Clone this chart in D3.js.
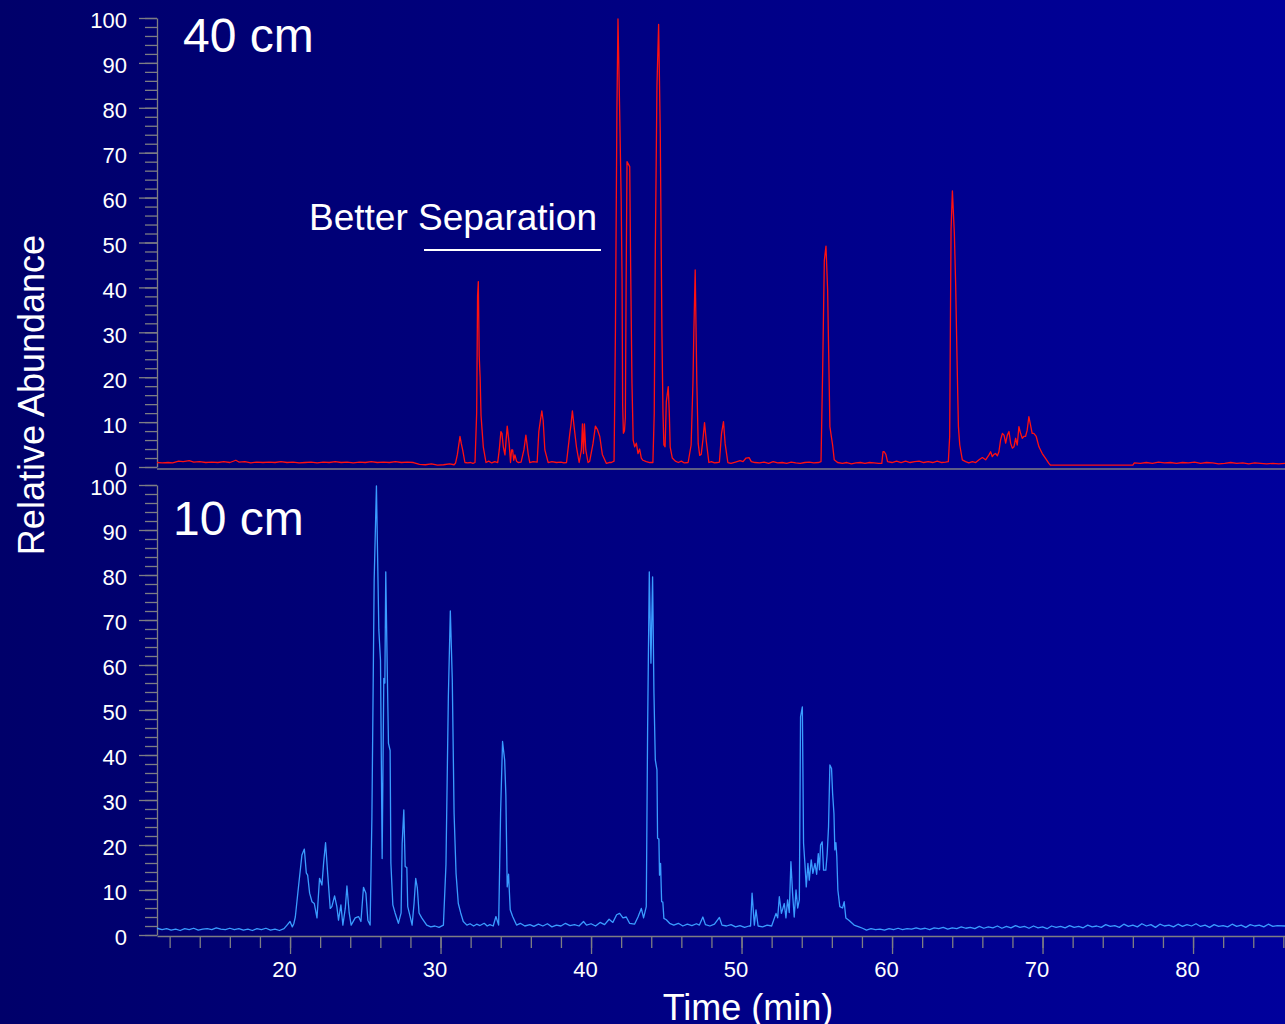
<!DOCTYPE html>
<html>
<head>
<meta charset="utf-8">
<script src="https://cdn.jsdelivr.net/npm/d3@7"></script>
<style>
  html, body { margin: 0; padding: 0; background: #000080; overflow: hidden; }
  svg { display: block; }
</style>
</head>
<body>
<svg id="chart" width="1285" height="1024"></svg>
<script>
// Chromatogram traces: [retention time (min), relative abundance (%)]
const trace40cm = [
  [11.16,1.0],[11.5,0.9],[11.9,1.0],[12.2,0.9],[12.6,1.3],[12.9,1.2],[13.3,1.4],[13.6,1.1],[14.0,1.2],[14.4,1.0],
  [14.8,1.1],[15.2,1.0],[15.6,1.2],[16.0,1.0],[16.4,1.5],[16.6,1.1],[17.0,1.2],[17.4,0.9],[17.8,1.1],[18.2,1.0],
  [18.6,1.1],[19.0,1.0],[19.4,1.2],[19.8,1.0],[20.2,1.1],[20.6,0.9],[21.0,1.0],[21.4,1.1],[21.8,0.9],[22.2,1.1],
  [22.6,1.0],[23.0,1.2],[23.4,1.0],[23.8,1.1],[24.2,0.9],[24.6,1.1],[25.0,1.0],[25.4,1.2],[25.8,1.0],[26.2,1.1],
  [26.6,1.0],[27.0,1.2],[27.4,1.0],[27.8,1.1],[28.2,1.0],[28.6,0.6],[29.0,0.5],[29.4,0.7],[29.8,0.4],[30.2,0.5],
  [30.6,0.7],[30.9,0.5],[31.0,0.9],[31.12,2.8],[31.29,6.8],[31.38,5.2],[31.47,3.8],[31.62,1.0],[31.8,0.9],[32.0,1.0],
  [32.15,0.8],[32.29,1.0],[32.40,12.0],[32.46,38.0],[32.51,41.3],[32.57,24.7],[32.63,20.0],[32.69,11.5],[32.84,4.5],[33.02,1.0],
  [33.2,1.3],[33.4,0.9],[33.6,1.2],[33.8,1.0],[33.90,3.8],[34.01,7.9],[34.08,7.5],[34.17,4.5],[34.28,2.7],[34.43,9.1],
  [34.56,5.2],[34.65,1.0],[34.72,3.8],[34.79,3.8],[34.86,1.5],[34.94,2.7],[35.05,1.3],[35.16,1.0],[35.35,1.1],[35.54,3.8],
  [35.67,7.1],[35.75,5.0],[35.82,3.0],[35.93,1.0],[36.15,1.2],[36.42,1.1],[36.53,7.9],[36.64,10.5],[36.73,12.5],[36.82,10.3],
  [36.93,3.8],[37.15,1.0],[37.4,1.2],[37.7,1.0],[38.0,1.1],[38.2,0.9],[38.37,1.0],[38.59,7.5],[38.67,9.5],[38.76,12.5],
  [38.87,9.1],[39.03,4.5],[39.21,1.0],[39.36,3.8],[39.43,9.6],[39.50,3.0],[39.56,9.6],[39.65,3.8],[39.80,1.0],[39.91,1.3],
  [40.13,5.2],[40.29,9.1],[40.42,8.4],[40.58,6.8],[40.75,2.8],[41.02,0.8],[41.2,1.0],[41.35,1.0],[41.53,1.3],[41.62,30.0],
  [41.72,80.0],[41.79,99.8],[41.90,79.5],[42.0,60.0],[42.06,42.0],[42.10,13.8],[42.15,7.5],[42.22,8.0],[42.28,11.0],[42.33,40.0],
  [42.39,68.0],[42.57,66.9],[42.63,45.0],[42.72,18.6],[42.80,6.0],[42.90,4.5],[43.01,5.3],[43.12,3.0],[43.23,4.0],[43.34,2.0],
  [43.45,1.5],[43.67,1.2],[43.9,1.0],[44.11,1.0],[44.20,12.0],[44.27,48.0],[44.38,85.0],[44.49,98.6],[44.60,74.0],[44.71,29.8],
  [44.78,12.0],[44.84,4.9],[44.92,4.5],[45.00,14.5],[45.13,17.9],[45.20,12.0],[45.26,4.4],[45.4,2.0],[45.6,1.3],[45.8,1.0],
  [46.0,1.3],[46.2,0.9],[46.45,1.0],[46.65,4.9],[46.77,18.6],[46.83,29.9],[46.92,43.9],[47.03,18.6],[47.12,5.2],[47.22,2.6],
  [47.32,2.8],[47.43,6.0],[47.54,9.9],[47.65,6.0],[47.83,1.0],[48.0,1.2],[48.2,0.9],[48.4,1.0],[48.53,1.1],[48.67,7.5],
  [48.80,10.1],[48.91,5.2],[49.09,1.0],[49.3,0.8],[49.6,1.1],[49.9,1.4],[50.1,1.2],[50.3,2.0],[50.5,2.1],[50.65,1.2],
  [50.9,1.0],[51.2,0.9],[51.5,1.1],[51.8,0.8],[52.1,1.2],[52.4,0.9],[52.7,1.0],[53.0,0.8],[53.3,1.1],[53.6,0.9],
  [53.9,0.8],[54.2,1.0],[54.5,1.1],[54.8,0.9],[55.1,1.0],[55.28,1.2],[55.39,21.6],[55.50,46.0],[55.61,49.2],[55.72,39.4],
  [55.79,25.4],[55.87,9.0],[56.05,4.9],[56.16,1.6],[56.38,1.0],[56.7,0.8],[57.0,1.0],[57.3,0.7],[57.6,0.9],[57.9,1.0],
  [58.2,0.8],[58.5,1.0],[58.8,0.9],[59.1,0.8],[59.32,0.8],[59.40,3.4],[59.48,3.4],[59.59,2.8],[59.70,1.2],[60.0,1.0],
  [60.3,1.3],[60.6,1.0],[60.9,1.3],[61.2,1.0],[61.5,1.2],[61.8,1.3],[62.1,1.0],[62.4,1.2],[62.7,1.0],[63.0,1.3],
  [63.3,1.0],[63.55,1.1],[63.74,1.2],[63.83,6.8],[63.92,52.8],[64.01,61.5],[64.14,52.0],[64.23,40.2],[64.32,23.8],[64.41,9.0],
  [64.50,4.9],[64.67,1.6],[64.89,1.2],[65.1,0.9],[65.34,1.2],[65.56,1.0],[65.78,1.6],[66.0,2.1],[66.22,1.6],[66.44,2.7],
  [66.55,3.4],[66.66,2.3],[66.77,2.8],[66.88,3.0],[67.0,2.5],[67.10,3.4],[67.21,6.0],[67.33,7.5],[67.44,7.1],[67.55,5.3],
  [67.66,7.1],[67.77,7.9],[67.88,5.3],[67.99,4.2],[68.10,4.5],[68.21,6.4],[68.32,4.9],[68.43,9.0],[68.54,7.5],[68.65,6.4],
  [68.76,6.8],[68.87,6.8],[68.98,8.2],[69.09,11.2],[69.20,9.4],[69.31,7.5],[69.42,7.5],[69.58,6.8],[69.76,4.5],[69.98,3.0],
  [70.20,1.9],[70.42,0.8],[70.53,0.4],[72.0,0.4],[74.0,0.4],[76.0,0.4],[76.1,0.9],[76.5,0.8],[76.9,1.0],[77.3,0.8],
  [77.7,1.1],[78.1,0.9],[78.5,1.0],[78.9,0.8],[79.3,1.0],[79.7,0.9],[80.1,1.1],[80.5,0.8],[80.9,1.0],[81.3,0.9],
  [81.7,0.7],[82.1,0.8],[82.5,1.0],[82.9,0.8],[83.3,0.9],[83.7,0.7],[84.1,0.9],[84.5,0.8],[84.9,0.7],[85.3,0.8],
  [85.7,0.7],[86.11,0.8]
];

const trace10cm = [
  [11.16,1.5],[11.5,1.2],[11.8,1.4],[12.1,1.1],[12.4,1.3],[12.7,1.0],[13.0,1.4],[13.3,1.2],[13.6,1.5],[13.9,1.1],
  [14.2,1.3],[14.5,1.4],[14.8,1.2],[15.1,1.6],[15.4,1.3],[15.7,1.2],[16.0,1.5],[16.3,1.2],[16.6,1.4],[16.9,1.1],
  [17.2,1.3],[17.5,1.0],[17.8,1.4],[18.1,1.2],[18.4,1.5],[18.7,1.1],[19.0,1.3],[19.3,1.0],[19.6,1.4],[19.8,2.2],
  [20.0,3.0],[20.15,1.8],[20.25,2.5],[20.35,4.0],[20.57,11.0],[20.79,17.8],[20.95,19.1],[21.08,13.8],[21.17,13.3],[21.30,9.3],
  [21.46,7.4],[21.61,7.0],[21.79,3.8],[21.96,12.6],[22.12,11.1],[22.23,16.0],[22.36,20.5],[22.50,13.7],[22.67,5.9],[22.78,6.3],
  [22.96,8.7],[23.11,6.3],[23.22,3.3],[23.38,6.7],[23.51,2.2],[23.67,5.9],[23.78,10.9],[23.93,4.9],[24.06,2.2],[24.33,3.8],
  [24.55,4.1],[24.71,3.0],[24.88,10.6],[25.04,9.3],[25.17,3.3],[25.32,2.2],[25.44,26.3],[25.59,78.9],[25.74,99.8],[25.90,67.8],
  [26.01,61.0],[26.12,17.0],[26.23,57.0],[26.30,56.0],[26.36,80.7],[26.47,56.7],[26.54,42.6],[26.65,41.0],[26.70,16.0],[26.83,6.7],
  [26.98,4.9],[27.20,2.6],[27.38,4.9],[27.45,20.4],[27.56,27.8],[27.65,15.2],[27.76,15.0],[27.82,6.3],[27.98,4.1],[28.11,2.2],
  [28.24,7.0],[28.35,12.6],[28.46,10.4],[28.57,4.9],[28.75,3.8],[29.08,2.2],[29.35,1.8],[29.63,2.0],[29.90,1.7],[30.19,2.2],
  [30.36,15.6],[30.52,53.1],[30.65,72.0],[30.78,56.7],[30.90,27.0],[31.03,13.7],[31.18,7.0],[31.34,4.9],[31.51,3.0],[31.75,2.2],
  [31.96,2.5],[32.2,2.0],[32.4,2.4],[32.62,2.1],[32.9,2.6],[33.1,2.0],[33.28,2.3],[33.5,2.0],[33.68,4.1],[33.86,2.2],
  [33.99,27.2],[34.12,43.0],[34.26,38.9],[34.34,31.1],[34.43,10.7],[34.52,13.5],[34.63,5.6],[34.79,4.1],[35.05,2.2],[35.3,2.6],
  [35.6,2.0],[35.94,2.3],[36.2,1.9],[36.5,2.4],[36.8,2.0],[37.1,2.5],[37.4,1.8],[37.7,2.2],[38.0,2.0],[38.3,2.6],
  [38.6,2.1],[38.9,2.3],[39.2,2.0],[39.5,3.0],[39.7,2.2],[40.0,2.5],[40.3,2.0],[40.6,2.8],[40.9,2.3],[41.2,3.5],
  [41.45,2.8],[41.7,4.5],[41.90,4.8],[42.12,3.8],[42.34,4.0],[42.56,2.6],[42.89,2.4],[43.12,4.0],[43.34,5.9],[43.49,3.8],
  [43.67,6.3],[43.76,46.3],[43.87,80.7],[43.98,60.4],[44.09,79.6],[44.18,53.7],[44.27,38.9],[44.38,36.7],[44.42,21.5],[44.51,21.3],
  [44.55,13.3],[44.62,15.9],[44.69,7.4],[44.77,7.3],[44.84,3.7],[45.0,3.4],[45.22,2.6],[45.5,2.2],[45.8,2.6],[46.1,2.0],
  [46.4,2.4],[46.7,2.1],[47.0,2.5],[47.2,2.2],[47.43,4.0],[47.6,2.3],[47.9,2.0],[48.2,2.4],[48.53,3.9],[48.7,2.2],
  [49.0,2.0],[49.3,2.3],[49.6,1.8],[49.9,2.1],[50.2,1.7],[50.5,2.0],[50.6,2.0],[50.7,9.3],[50.85,2.2],[50.96,5.6],
  [51.1,2.0],[51.4,1.8],[51.7,2.2],[52.0,2.0],[52.29,4.8],[52.4,3.8],[52.51,8.5],[52.65,4.8],[52.84,7.0],[52.95,3.8],
  [53.06,7.8],[53.17,5.0],[53.28,16.3],[53.39,9.3],[53.5,4.0],[53.62,10.0],[53.73,6.0],[53.84,7.8],[53.92,48.5],[54.04,50.7],
  [54.12,20.4],[54.21,15.9],[54.30,10.7],[54.41,15.9],[54.50,12.2],[54.63,16.7],[54.74,13.7],[54.88,15.9],[54.99,13.5],[55.10,18.1],
  [55.18,14.5],[55.25,20.0],[55.36,20.7],[55.45,14.4],[55.60,14.4],[55.69,18.0],[55.78,24.0],[55.87,37.8],[55.98,37.0],[56.05,31.5],
  [56.14,27.0],[56.20,18.9],[56.27,20.5],[56.33,17.5],[56.40,10.0],[56.53,6.3],[56.71,6.0],[56.82,7.4],[56.93,3.8],[57.15,3.2],
  [57.48,2.2],[57.8,1.8],[58.04,1.5],[58.3,1.1],[58.6,1.4],[58.9,1.2],[59.2,1.3],[59.5,1.1],[59.8,1.4],[60.1,1.2],
  [60.4,1.5],[60.7,1.2],[61.0,1.4],[61.3,1.3],[61.6,1.6],[61.9,1.3],[62.2,1.5],[62.5,1.2],[62.8,1.6],[63.1,1.4],
  [63.4,1.7],[63.7,1.3],[64.0,1.6],[64.3,1.4],[64.6,1.8],[64.9,1.5],[65.2,1.7],[65.5,1.4],[65.8,1.9],[66.1,1.5],
  [66.4,1.8],[66.7,1.6],[67.0,2.0],[67.3,1.5],[67.6,1.9],[67.9,1.6],[68.2,2.1],[68.5,1.7],[68.8,1.9],[69.1,1.5],
  [69.4,2.0],[69.7,1.6],[70.0,1.8],[70.3,1.4],[70.6,2.0],[70.9,1.7],[71.2,1.9],[71.5,1.6],[71.8,2.1],[72.1,1.7],
  [72.4,1.9],[72.7,1.6],[73.0,2.2],[73.3,1.8],[73.6,2.0],[73.9,1.7],[74.2,2.3],[74.5,1.9],[74.8,2.1],[75.1,1.7],
  [75.4,2.4],[75.7,1.9],[76.0,2.2],[76.3,1.8],[76.6,2.5],[76.9,2.0],[77.2,2.3],[77.5,1.7],[77.8,2.4],[78.1,2.0],
  [78.4,2.2],[78.7,1.8],[79.0,2.4],[79.3,1.9],[79.6,2.3],[79.9,2.0],[80.2,2.5],[80.5,1.9],[80.8,2.2],[81.1,1.7],
  [81.4,2.3],[81.7,1.9],[82.0,2.1],[82.3,1.8],[82.6,2.4],[82.9,1.9],[83.2,2.2],[83.5,1.7],[83.8,2.3],[84.1,2.0],
  [84.4,2.2],[84.7,1.8],[85.0,2.4],[85.3,1.9],[85.6,2.1],[86.11,2.0]
];

const abundanceTicks = [0, 10, 20, 30, 40, 50, 60, 70, 80, 90, 100];
const timeTicks = [20, 30, 40, 50, 60, 70, 80];
const panelLabels = ["40 cm", "10 cm"];
const annotation = "Better Separation";
const timeDomain = [11.16, 86.11];

const FONT = "'Liberation Sans', Arial, Helvetica, sans-serif";
const AXIS_GREY = "#7d7d84";

const svg = d3.select("#chart");

// slide-style horizontal gradient background
const defs = svg.append("defs");
const grad = defs.append("linearGradient").attr("id", "bg").attr("x1", 0).attr("x2", 1).attr("y1", 0).attr("y2", 0);
grad.append("stop").attr("offset", "0%").attr("stop-color", "#00006a");
grad.append("stop").attr("offset", "100%").attr("stop-color", "#00009c");
svg.append("rect").attr("width", 1285).attr("height", 1024).attr("fill", "url(#bg)");

// scales
const x = d3.scaleLinear().domain(timeDomain).range([157, 1285]);
const yTop = d3.scaleLinear().domain([0, 100]).range([467, 18]);
const yBot = d3.scaleLinear().domain([0, 100]).range([935, 485]);

function styleAxis(g) {
  g.selectAll("path.domain").attr("stroke", AXIS_GREY).attr("stroke-width", 1.3);
  g.selectAll(".tick line").attr("stroke", AXIS_GREY).attr("stroke-width", 1.3);
  g.selectAll(".tick text").attr("fill", "#ffffff").attr("font-family", FONT).attr("font-size", 22);
}

function drawYAxis(scale) {
  // minor ticks every 2 %
  const minor = svg.append("g").attr("transform", "translate(157,0)")
    .call(d3.axisLeft(scale).tickValues(d3.range(0, 101, 2)).tickSize(12).tickSizeOuter(0).tickFormat(""));
  minor.select("path.domain").remove();
  styleAxis(minor);
  // major ticks with labels
  const major = svg.append("g").attr("transform", "translate(157,0)")
    .call(d3.axisLeft(scale).tickValues(abundanceTicks).tickSize(18).tickSizeOuter(0).tickPadding(12));
  styleAxis(major);
  major.selectAll(".tick text").attr("dy", "0.45em");
}

drawYAxis(yTop);
drawYAxis(yBot);

// baseline rule of the upper panel
svg.append("line")
  .attr("x1", 157).attr("x2", 1285)
  .attr("y1", 469).attr("y2", 469)
  .attr("stroke", AXIS_GREY).attr("stroke-width", 1.5);

// time axis under the lower panel
const xMinor = svg.append("g").attr("transform", "translate(0,936)")
  .call(d3.axisBottom(x).tickValues(d3.range(12, 87, 2)).tickSize(12).tickSizeOuter(0).tickFormat(""));
styleAxis(xMinor);
xMinor.select("path.domain").attr("stroke-width", 1.5);
const xMajor = svg.append("g").attr("transform", "translate(0,936)")
  .call(d3.axisBottom(x).tickValues(timeTicks).tickSize(18).tickSizeOuter(0).tickPadding(7));
styleAxis(xMajor);
xMajor.select("path.domain").remove();
xMajor.selectAll(".tick text").attr("dx", -6);

// traces
const lineTop = d3.line().x(d => x(d[0])).y(d => yTop(d[1]));
const lineBot = d3.line().x(d => x(d[0])).y(d => yBot(d[1]));

svg.append("path").datum(trace40cm)
  .attr("d", lineTop)
  .attr("fill", "none").attr("stroke", "#ff1010").attr("stroke-width", 1.3)
  .attr("stroke-linejoin", "round");

svg.append("path").datum(trace10cm)
  .attr("d", lineBot)
  .attr("fill", "none").attr("stroke", "#3a9cff").attr("stroke-width", 1.3)
  .attr("stroke-linejoin", "round");

// panel labels
svg.append("text").attr("x", 183).attr("y", 52).text(panelLabels[0])
  .attr("fill", "#fff").attr("font-family", FONT).attr("font-size", 48);
svg.append("text").attr("x", 173).attr("y", 535).text(panelLabels[1])
  .attr("fill", "#fff").attr("font-family", FONT).attr("font-size", 48);

// annotation with underline
svg.append("text").attr("x", 309).attr("y", 230).text(annotation)
  .attr("fill", "#fff").attr("font-family", FONT).attr("font-size", 37);
svg.append("line").attr("x1", 424).attr("x2", 601).attr("y1", 250).attr("y2", 250)
  .attr("stroke", "#fff").attr("stroke-width", 2);

// axis titles
svg.append("text")
  .attr("transform", "translate(44,395) rotate(-90)")
  .attr("text-anchor", "middle")
  .attr("fill", "#fff").attr("font-family", FONT).attr("font-size", 36)
  .text("Relative Abundance");

svg.append("text")
  .attr("x", 748).attr("y", 1020)
  .attr("text-anchor", "middle")
  .attr("fill", "#fff").attr("font-family", FONT).attr("font-size", 36)
  .text("Time (min)");
</script>
</body>
</html>
